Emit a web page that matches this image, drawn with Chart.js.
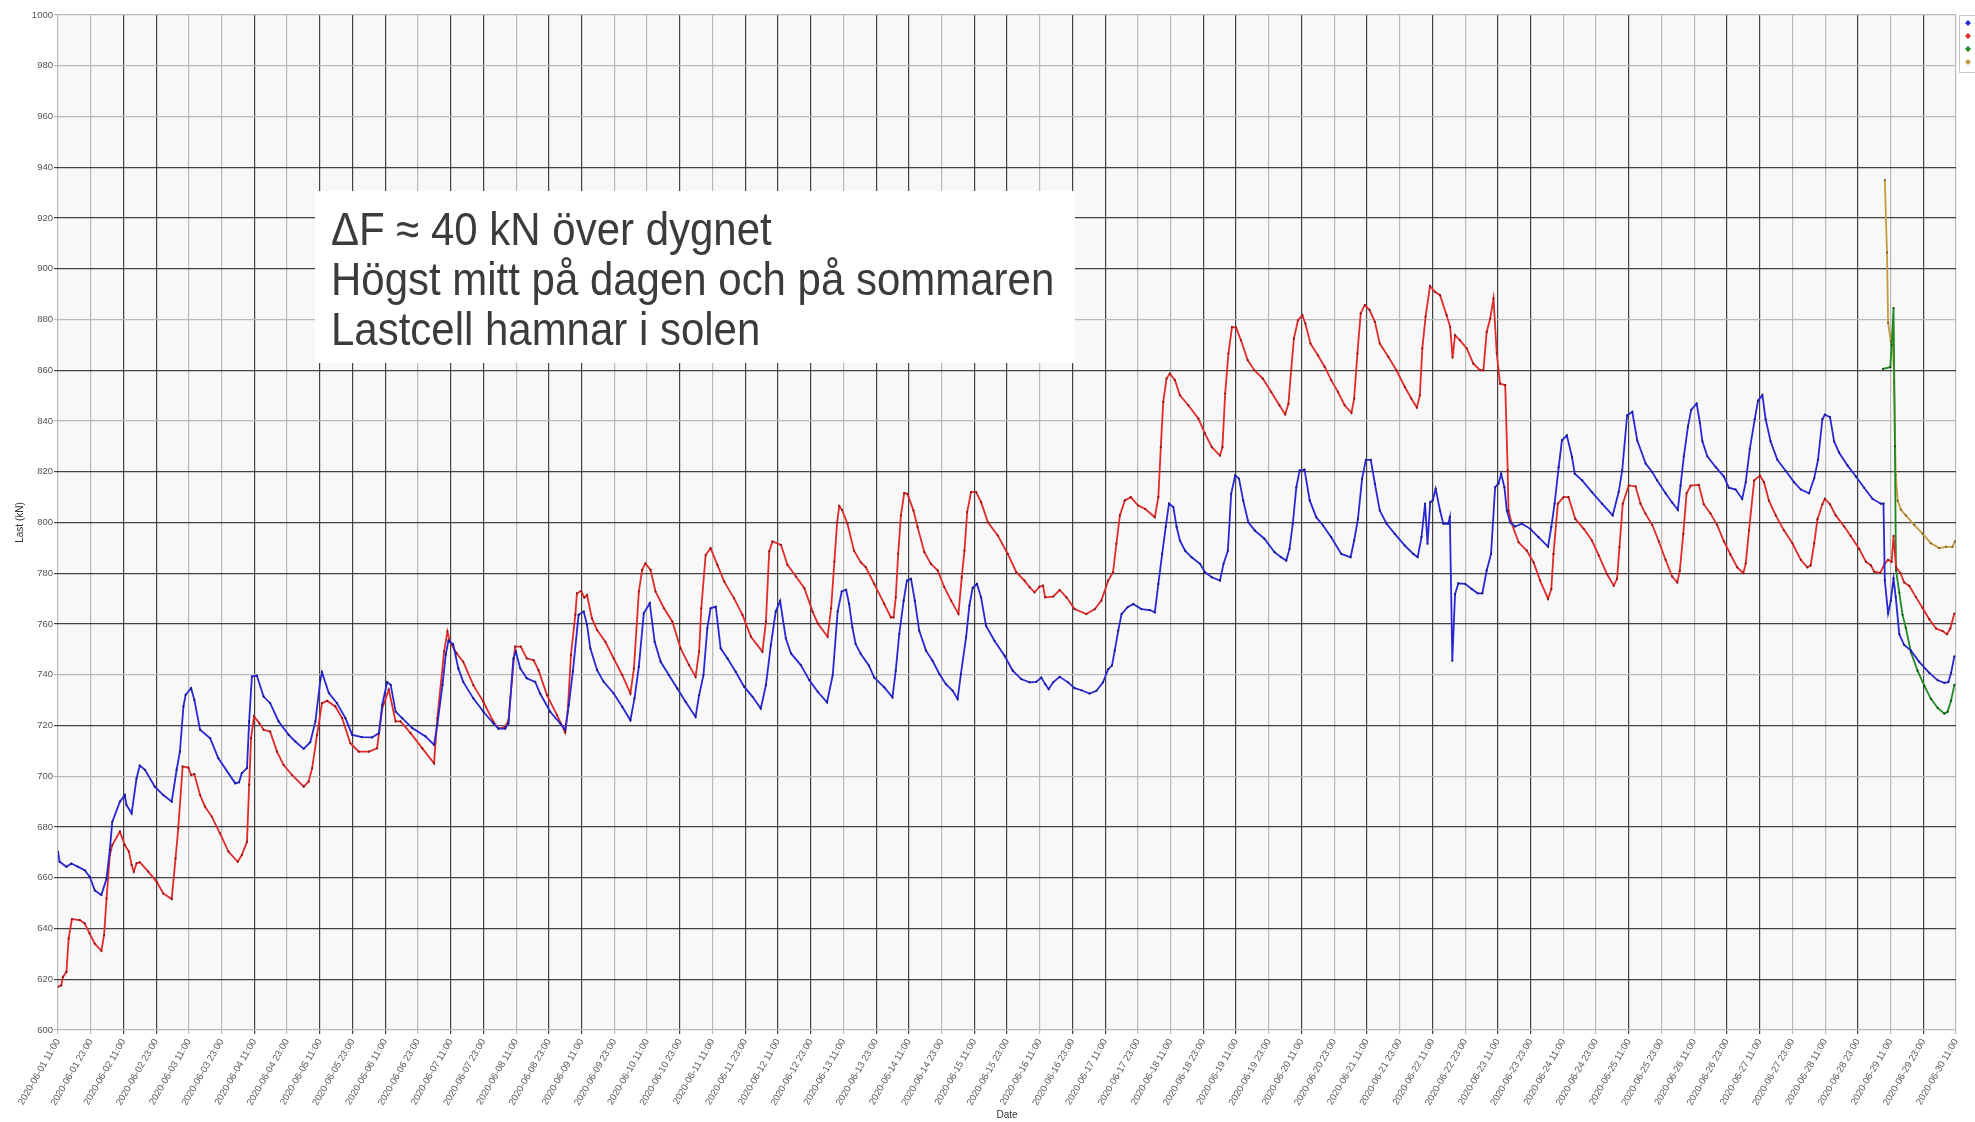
<!DOCTYPE html>
<html>
<head>
<meta charset="utf-8">
<script src="https://cdn.jsdelivr.net/npm/chart.js@4.4.1/dist/chart.umd.min.js"></script>
<style>
  html, body { margin: 0; padding: 0; background: #ffffff; }
  #wrap { width: 1975px; height: 1122px; position: relative; }
  canvas { display: block; }
</style>
</head>
<body>
<div id="wrap"><canvas id="chart" width="1975" height="1122"></canvas></div>
<script>
// Load-cell readings, June 2020. x = hours after 2020-06-01 11:00, y = load in kN.
const blueLoad = [[0,670.3],[0.6,666.3],[3.1,664.3],[4.9,665.6],[7.4,664.3],[9.8,663],[11.6,660.4],[13.5,655],[15.9,653.2],[17.8,659.7],[19,671],[19.9,682],[22.7,690],[24.5,692.6],[25.1,688.7],[27,685.4],[28.8,699.2],[30,704.2],[31.9,702.5],[35.5,695.9],[38.6,692.6],[41.7,690],[43.5,702.5],[44.7,709.7],[46,727.5],[46.8,732.1],[48.8,734.7],[50,730.1],[52.1,718.3],[55.8,715],[58.8,707.1],[65,697.2],[66.4,697.6],[67.4,701.2],[69.3,703.2],[70.1,721.6],[71.1,739.3],[72.9,739.7],[75.4,731.4],[77.8,728.8],[80.9,721.6],[84.6,716.3],[87,713.7],[90.1,710.8],[92.5,713.4],[94.4,721.6],[96.2,738],[96.8,741],[99.3,732.8],[102.3,728.8],[105.4,722.9],[107.9,716.3],[111.5,715.4],[115.2,715.3],[117.7,717],[118.9,728.2],[120.7,737.1],[122,736],[123.8,725.5],[126.2,722.9],[129.9,719],[134.8,715.7],[137.9,712.4],[139.1,720.3],[141,736],[142.2,748],[143.2,753.5],[144.9,752],[146.8,742.5],[148.6,737.2],[152.3,730.7],[156,725.4],[159.7,720.8],[161.5,718.8],[164,718.8],[165.2,720.8],[167,746.4],[167.9,749.1],[169.5,742.5],[171.9,738.6],[175,737.2],[176.8,732.6],[180.5,725.4],[184.2,720.8],[186,718.2],[187.3,728],[188.8,741.2],[190.9,763.6],[192.8,764.9],[194,759.6],[195.2,750.4],[197.7,741.8],[200.1,737.2],[203.8,732.6],[206.9,727.4],[209.9,722.1],[211.4,730.7],[213,743.2],[214.8,764.2],[217,768.2],[218.8,753],[221,745.1],[224,739.9],[227.1,734.6],[230.2,729.3],[233.8,723.4],[235.1,732],[236.7,739.9],[238.1,758.3],[239.3,766.2],[241.2,766.8],[243,750.4],[245.5,746.4],[248.5,741.2],[251.6,735.3],[254.7,731.3],[257.7,726.7],[259.6,735.9],[261.4,751.7],[263.2,764.9],[264.8,769.1],[266.9,754.3],[268.8,748.4],[272.4,743.8],[275.5,737.9],[278.6,733.3],[282,729.1],[284.1,739.9],[285.9,764.9],[287.4,772.8],[289,773.5],[290.1,767.9],[291.3,758.7],[292.5,752.1],[294.4,748.2],[297.4,743.6],[299.3,738.9],[303,735],[306,731.1],[307.2,741.6],[308.5,756.1],[310.1,769.2],[311.3,777.1],[312.8,777.8],[314.2,769.2],[315.8,757.4],[318.3,749.5],[320.7,745.5],[323.2,740.3],[325.6,736.3],[328.1,733.7],[329.9,730.4],[331.1,740.3],[333,754.7],[334.2,767.2],[335.4,774.2],[337,775.8],[338.5,770.5],[340.3,759.3],[343.4,753.4],[347.1,747.5],[350.1,741.6],[353.2,738.3],[356.3,737],[358.7,737.2],[360.6,738.9],[362,736.3],[363.3,734.3],[364.9,737],[367.3,739.2],[370.4,737],[372.8,734.7],[375.3,733.9],[378.3,732.6],[380.8,733.7],[383.2,737],[385.1,742.2],[386.5,743.6],[387.5,749.5],[388.8,757.4],[390,763.9],[392.2,766.6],[394.3,767.9],[397.3,765.9],[400.4,765.5],[402.2,764.6],[403.5,775.8],[404.9,787.6],[406.2,798.2],[407.4,807.4],[409,806.1],[410.2,798.2],[411.4,792.9],[413.3,788.9],[415.7,786.3],[418.8,783.7],[420.6,780.4],[423.1,778.4],[426.1,777.1],[427.4,783.7],[429,788.9],[430.2,811.3],[431.7,818.6],[433.1,817.2],[434.6,808.7],[436.5,800.1],[438.9,796.8],[442.4,793.6],[446.1,788.3],[448.5,786.3],[450.4,785],[451.6,789.6],[452.8,799.5],[454.1,813.9],[455.3,820.5],[457.1,820.8],[459,808.7],[461.4,802.1],[463.9,798.8],[466.9,794.2],[470.6,787.6],[474,786.3],[475.3,792.9],[476.7,801.4],[478.2,817.2],[479.6,824.7],[481.4,824.7],[482.9,815.3],[484.7,804.7],[487.2,799.5],[490.2,795.5],[493.9,790.9],[497,787.6],[498.6,786.3],[500,794.2],[501.3,807.4],[502.2,791.6],[503.2,808],[504.1,808.7],[505.2,813.3],[506.8,804.7],[508,799.5],[509.8,799.5],[510.4,802.1],[511.3,745.5],[512.3,771.8],[513.5,776],[516,775.8],[518.4,773.8],[520.6,772.1],[522.3,772.1],[523.9,781.1],[525.5,787.6],[527,813.9],[528.2,815.3],[529.2,819.2],[530.4,813.9],[531.3,804.7],[532.5,800.1],[534.3,798.4],[536.8,799.5],[539.9,797.5],[542.9,794.2],[546.4,790.5],[547.6,798.2],[548.8,807.4],[550.3,821.8],[551.5,832.4],[553.3,834.3],[555.2,825.8],[556.2,819.2],[558.9,816.6],[562.5,812],[566.2,807.4],[570.1,802.8],[572.3,812],[573.6,820.5],[575.4,842.2],[577.3,843.6],[579.1,832.4],[582.2,823.2],[584.6,819.9],[586.4,816.6],[589.5,811.5],[591.9,807.9],[594,805],[595,814.5],[596.2,826.1],[597.7,837.8],[598.9,844.4],[600.9,846.9],[602.1,839.3],[603,832],[604.8,826.1],[607.9,821.8],[610.9,818.1],[612.7,813.7],[615.2,813],[617.6,809.3],[618.9,815.9],[620.4,829],[622.2,840.7],[623.4,848],[625,850.2],[626.2,840.7],[628,832],[630.5,824.7],[633.6,820.3],[636.6,815.9],[639.1,813],[642.1,811.5],[644,817.4],[645.4,824.7],[647,840.7],[647.9,842.5],[649.8,841.5],[651.3,832],[653.1,827.6],[656.2,822.5],[659.3,818.1],[662.3,813.7],[665.4,809.3],[668.4,807.4],[669.4,807.4],[669.9,777.2],[671.1,764.1],[672.1,769.2],[673.1,777.9],[673.9,770.6],[675.2,756],[677,751.7],[679.5,749.5],[682.5,745.1],[686.2,740.7],[689.3,737.8],[691.7,736.8],[693.2,737.1],[694.2,740.7],[695.4,747.3]];

const redLoad = [[0,617],[1.2,617.6],[1.8,620.9],[3.1,622.9],[3.9,636],[5.1,643.7],[8,643.3],[9.8,642],[11.6,638],[13.5,634],[15.9,631.2],[16.9,637.4],[17.8,651.8],[19,668.9],[19.9,672.9],[22.7,678.2],[24.5,672.9],[26,670.3],[27,665],[27.8,662.4],[28.8,665.7],[30,666.1],[33.1,662.4],[36.2,658.4],[38.6,653.8],[41.7,651.6],[43.1,667.6],[44.1,679.5],[45.7,703.8],[47.8,703.4],[48.8,700.5],[50,700.8],[52.1,692.6],[53.9,688],[56.4,684.1],[59.4,677.5],[62.5,670.3],[65.9,666.3],[67.4,668.9],[69.3,674.2],[70.1,696.6],[70.8,715],[71.9,723.6],[73.8,720.9],[75.4,718.3],[77.8,717.6],[80.3,709.7],[82.7,704.5],[85.8,700.5],[90.1,695.9],[91.9,697.9],[93.2,703.2],[95,716.3],[96.8,728.8],[98.7,729.7],[101.7,727.5],[104.2,722.9],[107.2,713],[110.3,709.7],[114,709.7],[117,711],[118.9,726.8],[121.3,734.1],[123.8,721.6],[125.6,721.6],[129.3,717],[133.6,711],[137.9,705.1],[139.1,722.9],[141.6,749.2],[142.8,757],[143.7,753],[146.2,748.4],[148.6,745.1],[152.3,735.9],[156,729.3],[159.7,721.4],[161.5,718.8],[164,719.5],[165.2,722.1],[166.4,737.2],[167.6,751.1],[169.7,751.1],[171.9,746.4],[174.4,745.8],[176.2,741.8],[179.3,732],[183,724.1],[186,717.2],[186.9,725.4],[188.1,747.8],[189.7,763.6],[190.3,772.1],[191.8,773],[193,770.4],[194,771.4],[195.8,762.2],[197.7,757.6],[200.7,753],[203.8,746.4],[206.9,739.9],[209.9,732.6],[211.2,742.5],[213,772.8],[214.2,781.3],[215.4,783.9],[217.3,781.3],[219.1,772.8],[222.2,766.2],[225.3,760.9],[228.3,750.4],[231.4,743.8],[233.8,739.2],[235.1,749.1],[235.9,766.2],[237.5,787.2],[239.3,789.9],[241.8,783.3],[244.3,776.7],[247.9,770.1],[251,763.6],[254.1,755],[258.3,749.1],[259.6,760.9],[260.8,788.6],[262,792.5],[265.1,791.2],[267.5,783.3],[270.6,778.7],[273.7,774.1],[276.7,764.9],[278.6,760.3],[282.2,755],[283.5,766.2],[284.7,784.6],[285.7,800],[286.5,806.5],[287.5,805],[289.5,799.5],[291.9,788.9],[294.4,784.3],[296.2,782.4],[299.3,775.8],[303,767.9],[305.4,762.6],[306.4,762.6],[307.2,770.5],[308.1,787.6],[309.1,802.8],[310.3,811.6],[311.5,811.3],[313.7,804.7],[315.2,798.2],[317.7,788.3],[320.1,783.7],[322.6,781.1],[325,774.5],[327.5,769.2],[330.2,764],[331.4,778.4],[332.4,788.9],[333.4,804.1],[334.8,812],[336.7,812],[338.5,808],[341,800.1],[344.6,794.9],[348.3,787.6],[351.4,780.4],[354.4,777.1],[356.3,774.5],[358.1,772.5],[359.9,774.7],[361.2,775.1],[362,770.5],[364.9,770.8],[367.3,773.4],[369.8,770.5],[372.8,765.9],[377.1,763.9],[380.2,765.9],[382.6,769.2],[385.1,777.1],[386.9,780.4],[388.1,791.6],[389.4,802.8],[391.2,808.7],[393.4,810],[396.1,806.7],[398.6,805.4],[402.2,802.1],[403.5,810],[404.4,829.7],[405.3,847.5],[406.5,856.7],[407.7,858.7],[409.6,856.1],[411.4,850.1],[414.5,846.2],[418.2,840.9],[420.6,835],[423.1,829.7],[426.1,826.4],[427,829.7],[428,850.8],[429.2,866.6],[430.5,877],[432,876.8],[433.8,871.8],[436.3,863.9],[438.7,860],[441.8,856.7],[444.9,851.4],[447.9,846.2],[450,842.6],[451.2,846.8],[452.2,860],[453.2,872.5],[454.7,879.7],[456.3,881.7],[457.4,878.4],[459.3,870.5],[462,865.9],[464.5,861.3],[466.9,856.1],[469.4,851.4],[471.8,846.2],[474.3,843.2],[475.3,848.8],[476.5,866.6],[477.7,882.4],[479.2,885.7],[481,883.7],[482.9,879.1],[484.7,870.5],[487.8,865.3],[490.8,860],[493.9,853.4],[496.3,848.8],[498.3,845.3],[499.4,850.1],[500.3,868.6],[501.5,881.1],[503.1,893.2],[504.9,890.9],[506.8,889.6],[509.2,881.7],[510.5,877.1],[511.4,865],[512.3,873.8],[514.1,871.8],[516.6,868.6],[519,862.6],[521.5,860],[522.7,860],[523.9,875.1],[525.2,880.4],[526.4,888.3],[527.6,866.6],[528.8,854.7],[530.7,854.1],[531.6,820.5],[531.9,804.7],[533.1,799.5],[535.6,792.2],[538.6,788.9],[541.1,784.3],[543.5,777.1],[546.4,769.9],[547.6,773.8],[548.4,787.6],[550,807.4],[552.1,810],[553.9,810],[556.4,801.4],[559.5,797.5],[562.5,792.9],[565,787],[568,779.7],[570.5,775.1],[571.7,777.8],[572.6,790.3],[573.8,807.4],[576,814.6],[578.5,814.2],[580.3,807.4],[582.1,803.5],[584.6,799.1],[587,792.6],[589.5,785.3],[591.9,778.7],[593.8,776.4],[594.7,780.9],[596,795.5],[597.2,811.5],[598.7,814.5],[601.7,814.8],[603.5,807.2],[606,803.5],[608.4,799.1],[610.9,792.6],[613.3,787.4],[615.8,782.3],[618,780.1],[618.9,783.8],[620.1,796.9],[622,816.6],[624.1,818.5],[625.6,815.9],[627.4,808.6],[629.9,802.8],[632.9,796.9],[636,791.8],[639.1,785.3],[641.5,782.3],[642.7,783.1],[644,791.8],[645.2,801.3],[647,807.2],[647.9,809.3],[649.8,807.2],[651.9,802.8],[655,798.4],[657.4,794.7],[660.5,789.6],[663,784.5],[664.8,783.1],[666,780.6],[668.2,780.1],[669.9,783.8],[671.1,785.3],[672.4,784.5],[673.1,794.7],[674,782.3],[675.6,780.1],[677,776.4],[678.9,775],[681.3,770.6],[683.8,766.2],[686.2,761.9],[688.7,758.2],[691.1,757.2],[692.7,756],[693.9,758.2],[695.4,764.1]];

const greenLoad = [[669.2,860.5],[671.9,861.2],[672.4,869.9],[673.1,884.5],[673.6,830],[674,781.2],[675.2,772.4],[676.4,763.6],[677.6,758.5],[679.5,748.8],[681.9,741.6],[684.4,735.6],[686.8,730.5],[689.3,726.9],[691.7,724.7],[692.9,725.4],[694.2,729.8],[695.4,736]];

const goldLoad = [[669.9,934.9],[670.7,906.4],[671.1,878.7],[672.1,871.4],[672.7,874.3],[673.3,855.3],[673.9,818.8],[674.6,808.6],[675.8,805],[677.6,802.8],[680.7,799.1],[683.8,795.5],[686.8,791.8],[689.9,789.9],[692.3,790.4],[694.7,790.4],[695.6,792.6]];

const seriesNames = ['Lastcell 1', 'Lastcell 2', 'Lastcell 3', 'Lastcell 4'];

// Category ticks every 12 h along the date axis.
const dateTicks = [
  '2020-06-01 11:00','2020-06-01 23:00','2020-06-02 11:00','2020-06-02 23:00','2020-06-03 11:00','2020-06-03 23:00',
  '2020-06-04 11:00','2020-06-04 23:00','2020-06-05 11:00','2020-06-05 23:00','2020-06-06 11:00','2020-06-06 23:00',
  '2020-06-07 11:00','2020-06-07 23:00','2020-06-08 11:00','2020-06-08 23:00','2020-06-09 11:00','2020-06-09 23:00',
  '2020-06-10 11:00','2020-06-10 23:00','2020-06-11 11:00','2020-06-11 23:00','2020-06-12 11:00','2020-06-12 23:00',
  '2020-06-13 11:00','2020-06-13 23:00','2020-06-14 11:00','2020-06-14 23:00','2020-06-15 11:00','2020-06-15 23:00',
  '2020-06-16 11:00','2020-06-16 23:00','2020-06-17 11:00','2020-06-17 23:00','2020-06-18 11:00','2020-06-18 23:00',
  '2020-06-19 11:00','2020-06-19 23:00','2020-06-20 11:00','2020-06-20 23:00','2020-06-21 11:00','2020-06-21 23:00',
  '2020-06-22 11:00','2020-06-22 23:00','2020-06-23 11:00','2020-06-23 23:00','2020-06-24 11:00','2020-06-24 23:00',
  '2020-06-25 11:00','2020-06-25 23:00','2020-06-26 11:00','2020-06-26 23:00','2020-06-27 11:00','2020-06-27 23:00',
  '2020-06-28 11:00','2020-06-28 23:00','2020-06-29 11:00','2020-06-29 23:00','2020-06-30 11:00'
];
const tickStepHours = 12;
const loadMin = 600, loadMax = 1000, loadStep = 20;

const noteLines = [
  'ΔF ≈ 40 kN över dygnet',
  'Högst mitt på dagen och på sommaren',
  'Lastcell hamnar i solen'
];

// ---- styling ----
const colors = ['#2727d6', '#e12a2a', '#1f8a24', '#c59a3e'];
const dotColors = ['#1a1a80', '#8a1515', '#0f4d12', '#7a5e20'];
// gridline tone per tick: d = dark, l = light
const xGridTone = 'lldd lldl ddd ldd l dd lld l ddd l dd l dd l dd ll dd l d l d l d l dd ll d ll dd ll d l d l'.replace(/ /g, '');
const yGridTone = 'ldddd ldldd ddldl dddll'.replace(/ /g, '');
const DARK = 'rgba(45,45,45,0.9)';
const LIGHT = '#b9b9b9';

const toPoints = arr => arr.map(p => ({ x: p[0], y: p[1] }));
const sets = [blueLoad, redLoad, greenLoad, goldLoad];

const plotBackground = {
  id: 'plotBackground',
  beforeDraw(chart) {
    const { ctx, chartArea: a } = chart;
    ctx.save();
    ctx.fillStyle = '#f8f8f8';
    ctx.fillRect(a.left, a.top, a.right - a.left, a.bottom - a.top);
    ctx.restore();
  }
};

const noteBox = {
  id: 'noteBox',
  afterDatasetsDraw(chart) {
    const ctx = chart.ctx;
    ctx.save();
    ctx.fillStyle = '#ffffff';
    ctx.fillRect(315, 191, 760, 172);
    ctx.fillStyle = '#3b3b3b';
    ctx.font = '47px "Liberation Sans", Arial, sans-serif';
    ctx.textBaseline = 'alphabetic';
    noteLines.forEach((t, i) => {
      ctx.save();
      ctx.translate(331, 245 + i * 50);
      ctx.scale(0.893, 1);
      ctx.fillText(t, 0, 0);
      ctx.restore();
    });
    ctx.restore();
  }
};

const sideLegend = {
  id: 'sideLegend',
  afterDraw(chart) {
    const ctx = chart.ctx;
    const x0 = 1959, y0 = 15;
    ctx.save();
    ctx.fillStyle = '#ffffff';
    ctx.strokeStyle = '#c8c8c8';
    ctx.lineWidth = 1;
    ctx.fillRect(x0, y0, 60, 57);
    ctx.strokeRect(x0 + 0.5, y0 + 0.5, 60, 57);
    chart.data.datasets.forEach((ds, i) => {
      const cy = y0 + 8 + i * 13;
      ctx.fillStyle = ds.borderColor;
      ctx.beginPath();
      ctx.moveTo(x0 + 9, cy - 3);
      ctx.lineTo(x0 + 12, cy);
      ctx.lineTo(x0 + 9, cy + 3);
      ctx.lineTo(x0 + 6, cy);
      ctx.closePath();
      ctx.fill();
      ctx.fillStyle = '#333';
      ctx.font = '10px "Liberation Sans", Arial, sans-serif';
      ctx.textBaseline = 'middle';
      ctx.fillText(ds.label, x0 + 18, cy);
    });
    ctx.restore();
  }
};

const tickFont = { family: '"Liberation Sans", Arial, sans-serif', size: 9.5 };

new Chart(document.getElementById('chart'), {
  type: 'line',
  data: {
    datasets: sets.map((s, i) => ({
      label: seriesNames[i],
      data: toPoints(s),
      borderColor: colors[i],
      backgroundColor: colors[i],
      borderWidth: 1.8,
      pointRadius: 1.1,
      pointBackgroundColor: dotColors[i],
      pointBorderWidth: 0,
      tension: 0,
      fill: false
    }))
  },
  options: {
    responsive: false,
    animation: false,
    devicePixelRatio: 1,
    layout: { padding: { left: 0, right: 19, top: 15, bottom: 0 } },
    plugins: {
      legend: { display: false },
      tooltip: { enabled: false }
    },
    scales: {
      x: {
        type: 'linear',
        min: 0,
        max: (dateTicks.length - 1) * tickStepHours,
        afterBuildTicks(scale) {
          scale.ticks = dateTicks.map((_, i) => ({ value: i * tickStepHours }));
        },
        afterFit(scale) { scale.height = 92; },
        ticks: {
          autoSkip: false,
          maxRotation: 60,
          minRotation: 60,
          padding: 3,
          color: '#555',
          font: tickFont,
          callback: (v, i) => dateTicks[i]
        },
        grid: {
          color: c => (xGridTone[c.index] === 'd' ? DARK : LIGHT),
          lineWidth: 1.2,
          tickLength: 4
        },
        border: { display: false },
        title: {
          display: true,
          text: 'Date',
          color: '#333',
          font: { family: '"Liberation Sans", Arial, sans-serif', size: 10 },
          padding: { top: 0, bottom: 1 }
        }
      },
      y: {
        type: 'linear',
        min: loadMin,
        max: loadMax,
        afterFit(scale) { scale.width = 58; },
        ticks: {
          stepSize: loadStep,
          padding: 1,
          color: '#555',
          font: tickFont,
          callback: v => String(v)
        },
        grid: {
          color: c => (yGridTone[c.index] === 'd' ? DARK : LIGHT),
          lineWidth: 1.2,
          tickLength: 4
        },
        border: { display: false },
        title: {
          display: true,
          text: 'Last (kN)',
          color: '#333',
          font: { family: '"Liberation Sans", Arial, sans-serif', size: 10 },
          padding: { top: 14, bottom: 0 }
        }
      }
    }
  },
  plugins: [plotBackground, noteBox, sideLegend]
});
</script>
</body>
</html>
